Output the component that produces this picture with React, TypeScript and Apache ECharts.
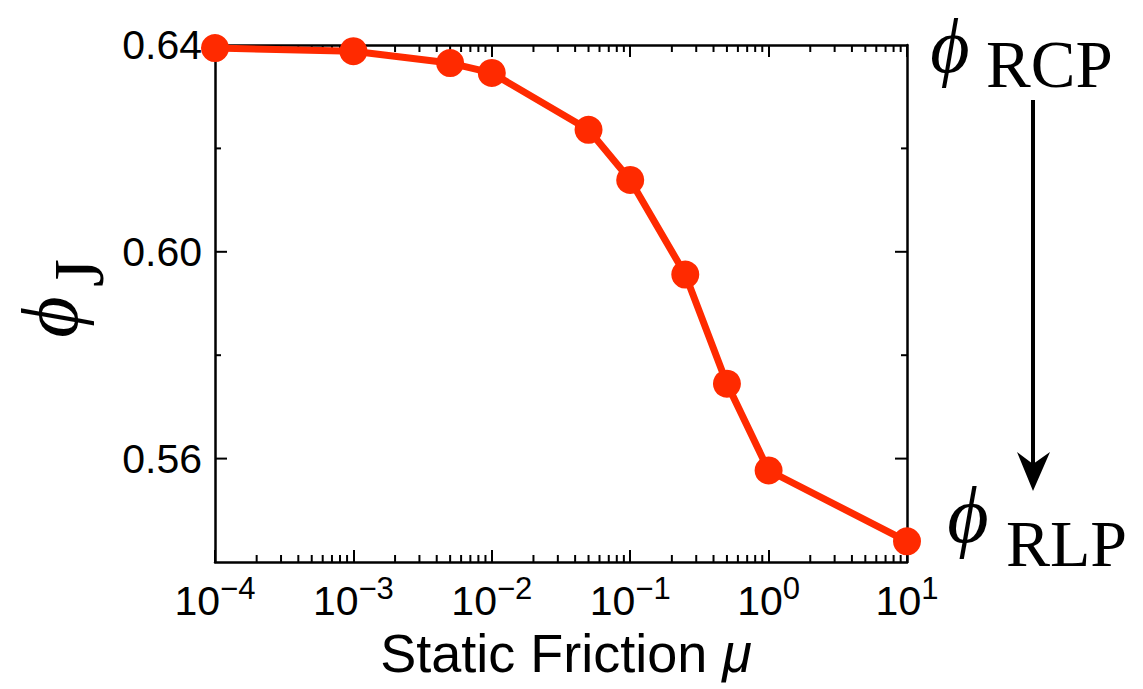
import React, { useEffect, useRef } from 'react';
import * as echarts from 'echarts';

// ---- data ----
const frictionMu = [1e-4, 1e-3, 5e-3, 1e-2, 5e-2, 1e-1, 0.25, 0.5, 1, 10];
const phiJ = [0.6394, 0.6388, 0.6365, 0.6346, 0.6236, 0.6139, 0.5956, 0.5745, 0.5577, 0.544];

const X_MIN = 1e-4;
const X_MAX = 10;
const Y_MIN = 0.54;
const Y_MAX = 0.64;
const yLabelValues = ['0.56', '0.60', '0.64'];
const yMajorTicks = [0.56, 0.6];
const yMinorTicks = [0.58, 0.62];
const xMinorTicks = [
  2e-4, 3e-4, 4e-4, 5e-4, 6e-4, 7e-4, 8e-4, 9e-4,
  2e-3, 3e-3, 4e-3, 5e-3, 6e-3, 7e-3, 8e-3, 9e-3,
  2e-2, 3e-2, 4e-2, 5e-2, 6e-2, 7e-2, 8e-2, 9e-2,
  0.2, 0.3, 0.4, 0.5, 0.6, 0.7, 0.8, 0.9,
  2, 3, 4, 5, 6, 7, 8, 9,
];

const RED = '#ff2a00';
const SANS = '"Liberation Sans", Arial, Helvetica, sans-serif';
const SERIF = '"Liberation Serif", "DejaVu Serif", "Times New Roman", serif';

function txt(x: number, y: number, text: string, size: number, italic: boolean, align: string, rotation = 0, lineHeight?: number) {
  return {
    type: 'text',
    x,
    y,
    rotation,
    silent: true,
    style: {
      text,
      fill: '#000',
      fontSize: size,
      fontFamily: SERIF,
      fontStyle: italic ? 'italic' : 'normal',
      lineHeight: lineHeight ?? size,
      align,
      verticalAlign: 'middle',
      textAlign: align,
      textVerticalAlign: 'middle',
    },
  };
}

export default function App() {
  const ref = useRef<HTMLDivElement>(null);
  useEffect(() => {
    if (!ref.current) return;
    const chart = echarts.init(ref.current, null, { renderer: 'svg' });
    const axisLine = { show: true, onZero: false, lineStyle: { color: '#000', width: 2.5 } };
    const option: any = {
      animation: false,
      backgroundColor: '#fff',
      grid: { left: 215, top: 45, width: 692, height: 517 },
      xAxis: [
        {
          type: 'log',
          logBase: 10,
          min: X_MIN,
          max: X_MAX,
          splitNumber: 5,
          position: 'bottom',
          axisLine,
          axisTick: { show: true, inside: true, length: 12, lineStyle: { color: '#000', width: 2 } },
          splitLine: { show: false },
          minorTick: { show: false },
          name: 'Static Friction {m|μ}',
          nameLocation: 'middle',
          nameGap: 62,
          nameTextStyle: {
            fontSize: 54,
            fontFamily: SANS,
            color: '#000',
            padding: [0, 0, 0, 10],
            rich: { m: { fontSize: 54, fontFamily: SANS, fontStyle: 'italic', color: '#000' } },
          },
          axisLabel: {
            margin: 11,
            color: '#000',
            formatter: (v: number) => {
              const e = Math.round(Math.log10(v));
              return `{b|10}{s|${e < 0 ? '\u2212' + -e : e}}`;
            },
            rich: {
              b: { fontSize: 41, fontFamily: SANS, color: '#000', lineHeight: 48, verticalAlign: 'bottom' },
              s: { fontSize: 31, fontFamily: SANS, color: '#000', lineHeight: 26, verticalAlign: 'top' },
            },
          },
        },
        {
          type: 'log',
          logBase: 10,
          min: X_MIN,
          max: X_MAX,
          splitNumber: 5,
          position: 'top',
          axisLine,
          axisTick: { show: true, inside: true, length: 12, lineStyle: { color: '#000', width: 2 } },
          axisLabel: { show: false },
          splitLine: { show: false },
        },
      ],
      yAxis: [
        {
          type: 'value',
          min: Y_MIN,
          max: Y_MAX,
          interval: 0.02,
          position: 'left',
          axisLine,
          axisTick: { show: false },
          splitLine: { show: false },
          axisLabel: {
            margin: 13,
            color: '#000',
            fontSize: 41,
            fontFamily: SANS,
            padding: [0, 0, 8, 0],
            showMinLabel: true,
            showMaxLabel: true,
            formatter: (v: number) => {
              const s = v.toFixed(2);
              return yLabelValues.indexOf(s) >= 0 ? s : '';
            },
          },
        },
        {
          type: 'value',
          min: Y_MIN,
          max: Y_MAX,
          interval: 0.02,
          position: 'right',
          axisLine,
          axisTick: { show: false },
          axisLabel: { show: false },
          splitLine: { show: false },
        },
      ],
      series: [
        {
          type: 'custom',
          name: 'xMinorTicks',
          silent: true,
          z: 1,
          xAxisIndex: 0,
          yAxisIndex: 0,
          data: xMinorTicks.map((v) => [v, Y_MIN]),
          renderItem: (_p: any, api: any) => {
            const v = api.value(0);
            const b = api.coord([v, Y_MIN]);
            const t = api.coord([v, Y_MAX]);
            const st = { stroke: '#000', lineWidth: 2 };
            return {
              type: 'group',
              children: [
                { type: 'line', shape: { x1: b[0], y1: b[1], x2: b[0], y2: b[1] - 7 }, style: st },
                { type: 'line', shape: { x1: t[0], y1: t[1], x2: t[0], y2: t[1] + 7 }, style: st },
              ],
            };
          },
        },
        {
          type: 'custom',
          name: 'yTicks',
          silent: true,
          z: 1,
          xAxisIndex: 0,
          yAxisIndex: 0,
          data: [
            ...yMajorTicks.map((v) => [X_MIN, v, 12]),
            ...yMinorTicks.map((v) => [X_MIN, v, 6]),
          ],
          renderItem: (_p: any, api: any) => {
            const v = api.value(1);
            const len = api.value(2);
            const l = api.coord([X_MIN, v]);
            const r = api.coord([X_MAX, v]);
            const st = { stroke: '#000', lineWidth: 2 };
            return {
              type: 'group',
              children: [
                { type: 'line', shape: { x1: l[0], y1: l[1], x2: l[0] + len, y2: l[1] }, style: st },
                { type: 'line', shape: { x1: r[0], y1: r[1], x2: r[0] - len, y2: r[1] }, style: st },
              ],
            };
          },
        },
        {
          type: 'line',
          name: 'phiJ',
          xAxisIndex: 0,
          yAxisIndex: 0,
          z: 5,
          data: frictionMu.map((m, i) => [m, phiJ[i]]),
          symbol: 'circle',
          symbolSize: 28,
          lineStyle: { color: RED, width: 7 },
          itemStyle: { color: RED },
          clip: false,
        },
      ],
      graphic: [
        // y-axis title  (rotated phi_J)
        txt(50, 317, '\u03d5', 80, true, 'center', Math.PI / 2, 64),
        txt(79, 273, 'J', 72, false, 'center', Math.PI / 2, 60),
        // phi_RCP
        txt(950, 46, '\u03d5', 76, true, 'center', 0, 60),
        txt(986, 64, 'RCP', 67, false, 'left', 0, 60),
        // phi_RLP
        txt(968, 515, '\u03d5', 80, true, 'center', 0, 64),
        txt(1006, 543, 'RLP', 66, false, 'left', 0, 60),
        // arrow
        {
          type: 'line',
          silent: true,
          shape: { x1: 1033, y1: 100, x2: 1033, y2: 470 },
          style: { stroke: '#000', lineWidth: 4 },
        },
        {
          type: 'polygon',
          silent: true,
          shape: { points: [[1033, 491], [1017, 452], [1033, 464], [1050, 452]] },
          style: { fill: '#000' },
        },
      ],
    };
    chart.setOption(option);
    return () => chart.dispose();
  }, []);
  return (
    <div
      ref={ref}
      style={{ position: 'fixed', left: 0, top: 0, width: 1143, height: 689, background: '#fff' }}
    />
  );
}
